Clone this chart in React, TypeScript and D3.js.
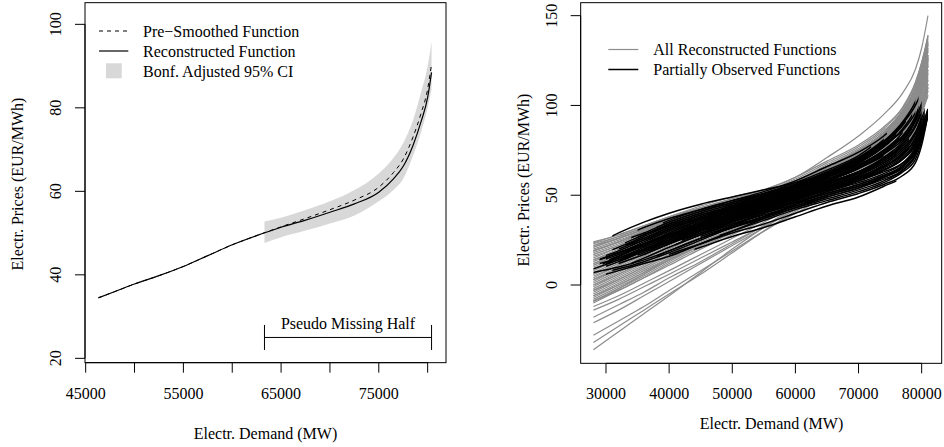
import * as d3 from 'd3';

// ---- left panel: one day, pseudo missing upper half ----
const demandL = [46300, 48000, 50000, 52500, 55000, 57500, 60000, 62500, 65000, 67500, 70000, 72500, 75000, 76500, 77500, 78500, 79300, 80000, 80400];
const reconstructed = [34.5, 36.0, 37.8, 39.8, 42.0, 44.6, 47.2, 49.4, 51.4, 53.1, 55.0, 57.0, 59.8, 63.0, 66.0, 71.0, 76.5, 82.5, 88.5];
const preSmoothed = [34.5, 36.0, 37.8, 39.8, 42.0, 44.6, 47.2, 49.4, 51.5, 53.5, 55.6, 57.9, 61.0, 64.5, 67.7, 73.0, 78.5, 84.5, 90.5];
const ciDemand = [63300, 65000, 67500, 70000, 72500, 75000, 76500, 77500, 78500, 79300, 80000, 80400];
const ciUpper = [52.8, 53.7, 55.5, 57.6, 60.3, 64.3, 68.0, 71.5, 77.0, 83.5, 90.0, 95.8];
const ciLower = [47.6, 49.0, 50.6, 52.3, 54.2, 57.6, 60.3, 63.0, 68.5, 74.0, 80.0, 84.5];
const missingFrom = 63300;
const missingTo = 80400;

const leftXTicks = [45000, 50000, 55000, 60000, 65000, 70000, 75000, 80000];
const leftXLabels = ['45000', '', '55000', '', '65000', '', '75000', ''];
const leftYTicks = [20, 40, 60, 80, 100];
const leftLegend = ['Pre\u2212Smoothed Function', 'Reconstructed Function', 'Bonf. Adjusted 95% CI'];

// ---- right panel: all days ----
const demandR = [28000, 32000, 36000, 40000, 45000, 50000, 55000, 60000, 65000, 70000, 74000, 77000, 79000, 80000, 81000];
const grayCurves = [
  [24, 28, 33, 38, 43, 47, 51, 57, 64, 72, 81, 91, 102, 112, 125],
  [21, 26, 31, 37, 43, 48, 53, 60, 69, 78, 88, 99, 112, 122, 136],
  [19, 24, 29, 35, 41, 46, 51, 58, 66, 75, 85, 96, 108, 119, 132],
  [17, 22, 28, 34, 40, 45, 50, 56, 63, 71, 80, 90, 101, 111, 124],
  [15, 21, 27, 33, 39, 44, 49, 56, 64, 73, 83, 95, 109, 121, 139],
  [13, 19, 25, 31, 37, 43, 48, 55, 62, 70, 79, 89, 100, 110, 122],
  [11, 17, 23, 29, 36, 42, 47, 54, 62, 71, 81, 93, 106, 117, 131],
  [9, 15, 21, 27, 34, 40, 46, 53, 61, 69, 78, 88, 99, 108, 118],
  [7, 13, 19, 26, 33, 39, 45, 52, 60, 68, 77, 87, 98, 107, 117],
  [5, 11, 18, 25, 32, 38, 44, 51, 59, 68, 78, 90, 104, 116, 130],
  [3, 10, 17, 24, 31, 37, 43, 50, 57, 64, 72, 81, 92, 101, 112],
  [1, 8, 15, 22, 30, 37, 43, 50, 58, 67, 77, 88, 101, 112, 126],
  [-1, 6, 13, 20, 28, 35, 41, 48, 55, 63, 71, 80, 90, 99, 110],
  [-3, 4, 11, 18, 26, 33, 40, 47, 55, 64, 74, 85, 98, 109, 122],
  [-5, 2, 9, 16, 24, 31, 38, 46, 54, 62, 71, 80, 91, 100, 108],
  [-7, 0, 7, 15, 23, 31, 38, 46, 54, 63, 73, 84, 96, 106, 118],
  [-9, -2, 5, 13, 22, 30, 37, 45, 53, 61, 70, 79, 89, 97, 105],
  [-10, -3, 4, 12, 21, 29, 37, 46, 55, 65, 76, 88, 101, 112, 125],
  [20, 25, 30, 36, 42, 47, 52, 58, 65, 73, 82, 92, 104, 114, 128],
  [16, 21, 27, 33, 39, 45, 50, 57, 65, 74, 84, 96, 110, 123, 137],
  [12, 18, 24, 30, 37, 43, 48, 54, 61, 69, 78, 88, 99, 108, 120],
  [8, 14, 20, 27, 34, 40, 46, 53, 61, 70, 80, 92, 105, 115, 127],
  [4, 11, 18, 25, 32, 38, 44, 51, 58, 66, 75, 85, 96, 106, 116],
  [0, 7, 14, 21, 29, 36, 42, 49, 57, 66, 76, 88, 102, 114, 128],
  [-4, 3, 10, 17, 25, 32, 39, 47, 55, 63, 72, 82, 93, 102, 114],
  [-8, -1, 6, 14, 22, 30, 37, 45, 53, 62, 72, 83, 95, 104, 112],
  [22, 27, 32, 37, 42, 46, 50, 55, 61, 68, 76, 85, 96, 106, 119],
  [18, 23, 29, 35, 41, 46, 51, 57, 64, 72, 81, 92, 105, 117, 134],
  [23, 27, 32, 37, 43, 48, 52, 58, 66, 75, 85, 97, 110, 121, 135],
  [14, 20, 26, 32, 38, 44, 49, 55, 62, 70, 79, 89, 101, 111, 123],
  [10, 16, 22, 28, 35, 41, 47, 54, 62, 71, 82, 94, 108, 120, 134],
  [6, 12, 19, 26, 33, 39, 45, 52, 60, 68, 77, 87, 98, 108, 120],
  [2, 9, 16, 23, 31, 37, 43, 50, 58, 67, 77, 89, 102, 113, 127],
  [-2, 5, 12, 19, 27, 34, 40, 48, 56, 65, 75, 86, 99, 110, 123],
  [-6, 1, 8, 15, 23, 31, 38, 46, 54, 63, 72, 82, 94, 104, 115],
  [-9, -2, 6, 14, 22, 30, 37, 45, 53, 62, 71, 81, 92, 101, 110],
  [19, 24, 30, 36, 42, 47, 51, 57, 64, 72, 81, 91, 103, 113, 126],
  [11, 17, 23, 30, 36, 42, 47, 54, 61, 69, 78, 88, 100, 110, 122],
  [21, 26, 31, 36, 42, 47, 52, 59, 68, 77, 87, 99, 113, 124, 138],
  [19, 24, 30, 35, 41, 46, 51, 58, 67, 76, 86, 97, 110, 121, 135],
  [17, 22, 27, 33, 39, 45, 50, 57, 66, 75, 84, 95, 108, 119, 132],
  [14, 19, 25, 31, 38, 44, 49, 56, 65, 74, 84, 96, 109, 120, 133],
  [12, 17, 23, 29, 36, 42, 48, 55, 64, 74, 85, 98, 112, 124, 139],
  [9, 15, 21, 27, 35, 41, 47, 55, 64, 73, 83, 95, 108, 119, 131],
  [6, 12, 18, 25, 33, 40, 46, 54, 63, 72, 82, 93, 105, 115, 127],
  [3, 9, 16, 23, 31, 38, 45, 53, 62, 71, 81, 92, 104, 114, 126],
  [0, 6, 13, 20, 28, 36, 43, 51, 60, 70, 80, 91, 103, 113, 124],
  [-3, 3, 10, 17, 25, 33, 41, 49, 58, 68, 79, 91, 104, 115, 128],
  [-6, 0, 7, 14, 22, 30, 38, 47, 57, 67, 78, 90, 103, 114, 126],
  [-9, -3, 4, 11, 20, 28, 36, 45, 55, 66, 77, 89, 102, 113, 125],
  [22, 26, 31, 36, 42, 47, 51, 57, 65, 74, 83, 94, 106, 117, 130],
  // the single high curve on the right
  [23.5, 28, 33, 38, 44, 49, 53, 60, 71, 83, 95, 107, 120, 132, 150],
  // low at the left end, merging into the band by the middle
  [-36, -26, -16, -6, 7, 20, 32, 42, 51, 59, 67, 76, 88, 98, 110],
  [-32, -23, -14, -5, 6, 18, 30, 41, 50, 58, 66, 75, 86, 96, 108],
  [-28, -20, -12, -3, 8, 19, 30, 40, 49, 57, 65, 74, 85, 95, 106],
  [-21, -14, -6, 2, 12, 22, 32, 42, 51, 59, 67, 76, 87, 97, 109],
  [-18, -11, -4, 4, 13, 23, 33, 43, 52, 61, 70, 80, 92, 102, 114],
  [-14, -8, -1, 6, 15, 24, 33, 43, 52, 61, 70, 80, 91, 101, 112],
  [-12, -6, 1, 8, 17, 26, 35, 44, 53, 62, 71, 81, 92, 101, 111],
];

// partially observed days: values at demandR, observed only between from and to
const blackCurves = [
  { from: 31000, to: 68000, v: [22, 29, 35, 40, 45, 49, 53, 57, 62, 68, 75, 84, 95, 104, 115] },
  { from: 28000, to: 72000, v: [7, 10, 14, 19, 26, 33, 40, 47, 54, 61, 69, 78, 89, 98, 108] },
  { from: 29500, to: 66000, v: [10, 15, 21, 27, 34, 40, 45, 51, 57, 64, 72, 81, 92, 101, 112] },
  { from: 30000, to: 75000, v: [14, 19, 25, 31, 37, 42, 47, 53, 60, 68, 77, 87, 98, 107, 118] },
  { from: 31000, to: 79500, v: [16, 21, 27, 33, 39, 44, 49, 55, 62, 70, 79, 90, 100, 108, 118] },
  { from: 33000, to: 70000, v: [12, 17, 23, 29, 36, 42, 47, 53, 59, 66, 74, 83, 94, 103, 113] },
  { from: 35000, to: 78000, v: [18, 23, 28, 34, 40, 45, 50, 56, 63, 71, 80, 90, 101, 110, 120] },
  { from: 30000, to: 81000, v: [8, 13, 19, 25, 32, 38, 43, 48, 53, 58, 63, 68, 75, 84, 96] },
  { from: 31000, to: 81000, v: [11, 16, 22, 28, 34, 39, 44, 49, 54, 59, 64, 70, 78, 87, 98] },
  { from: 36000, to: 81000, v: [6, 11, 17, 23, 30, 36, 41, 46, 51, 56, 61, 66, 74, 82, 95] },
  { from: 40000, to: 80500, v: [9, 14, 20, 26, 33, 39, 44, 50, 55, 60, 66, 73, 82, 91, 100] },
  { from: 29000, to: 77000, v: [13, 18, 24, 30, 36, 41, 46, 51, 57, 63, 70, 78, 88, 97, 107] },
  { from: 32000, to: 76000, v: [15, 20, 26, 32, 38, 43, 48, 54, 61, 69, 78, 88, 99, 109, 120] },
  { from: 36000, to: 74000, v: [17, 22, 28, 34, 40, 45, 50, 56, 63, 71, 81, 92, 104, 114, 126] },
  { from: 42000, to: 81000, v: [5, 10, 16, 22, 29, 35, 40, 45, 50, 55, 60, 66, 75, 85, 97] },
  { from: 45000, to: 81000, v: [3, 8, 14, 20, 27, 33, 38, 43, 48, 53, 58, 64, 72, 82, 95] },
  { from: 40000, to: 81000, v: [0, 5, 11, 17, 23, 29, 34, 40, 46, 51, 56, 61, 68, 78, 95] },
  { from: 44000, to: 76000, v: [-2, 3, 9, 15, 21, 27, 32, 38, 44, 49, 55, 60, 66, 76, 94] },
  { from: 30000, to: 73000, v: [12, 17, 22, 28, 34, 40, 45, 51, 57, 63, 70, 77, 86, 94, 104] },
  { from: 34000, to: 72000, v: [19, 24, 29, 35, 41, 46, 51, 57, 64, 72, 83, 94, 106, 116, 128] },
  { from: 38000, to: 77500, v: [14, 19, 25, 31, 37, 42, 48, 54, 61, 69, 79, 90, 102, 112, 124] },
  { from: 28000, to: 64000, v: [9, 14, 20, 26, 32, 38, 43, 49, 55, 61, 68, 76, 86, 95, 105] },
  { from: 34000, to: 80000, v: [4, 9, 15, 21, 28, 34, 40, 46, 52, 58, 64, 71, 80, 89, 99] },
  { from: 37000, to: 79000, v: [7, 12, 18, 24, 31, 37, 42, 48, 54, 60, 67, 75, 85, 94, 104] },
  { from: 41000, to: 78500, v: [10, 15, 21, 27, 33, 38, 44, 50, 56, 63, 71, 80, 91, 100, 110] },
  { from: 38000, to: 81000, v: [2, 7, 13, 19, 26, 32, 37, 43, 49, 54, 60, 66, 74, 83, 96] },
  { from: 33000, to: 69000, v: [16, 21, 26, 32, 38, 44, 49, 55, 61, 68, 76, 85, 95, 104, 114] },
  { from: 30500, to: 75000, v: [11, 16, 22, 28, 35, 41, 46, 52, 58, 65, 73, 82, 93, 102, 112] },
  { from: 39000, to: 74500, v: [20, 25, 30, 36, 42, 47, 52, 58, 66, 74, 83, 93, 104, 113, 123] },
  { from: 46000, to: 80000, v: [6, 11, 17, 23, 29, 35, 41, 47, 53, 59, 65, 72, 82, 92, 102] },
  { from: 48000, to: 81000, v: [1, 6, 12, 18, 24, 30, 36, 42, 47, 52, 57, 63, 70, 80, 95] },
  { from: 29000, to: 60000, v: [13, 18, 23, 29, 35, 41, 47, 53, 59, 66, 74, 84, 96, 106, 117] },
  { from: 43000, to: 76500, v: [15, 20, 25, 31, 37, 43, 48, 54, 60, 67, 75, 84, 95, 104, 115] },
  { from: 32000, to: 78000, v: [8, 13, 19, 25, 31, 37, 42, 48, 54, 60, 66, 73, 83, 93, 103] },
  { from: 30000, to: 56000, v: [4, 8, 12, 16, 23, 30, 37, 44, 51, 58, 65, 73, 83, 92, 102] },
  { from: 31000, to: 66000, v: [6, 9, 13, 18, 25, 32, 38, 45, 52, 58, 65, 73, 83, 92, 103] },
  { from: 47000, to: 79000, v: [14, 19, 25, 31, 37, 43, 48, 54, 61, 69, 78, 86, 96, 104, 113] },
  { from: 44000, to: 80000, v: [10, 15, 21, 27, 34, 40, 45, 51, 58, 65, 74, 83, 93, 101, 110] },
  { from: 33000, to: 71000, v: [17, 22, 28, 33, 39, 44, 49, 54, 60, 67, 75, 84, 95, 104, 114] },
  { from: 35000, to: 67000, v: [20, 26, 32, 37, 42, 47, 51, 56, 62, 69, 77, 86, 97, 106, 116] },
  { from: 37000, to: 79500, v: [13, 18, 24, 30, 36, 41, 46, 52, 58, 65, 73, 83, 94, 103, 113] },
  { from: 29000, to: 62000, v: [11, 15, 20, 25, 31, 37, 42, 48, 54, 60, 67, 75, 85, 94, 104] },
  { from: 32000, to: 80000, v: [7, 12, 17, 23, 29, 35, 41, 47, 53, 58, 64, 70, 79, 88, 98] },
  { from: 42000, to: 81000, v: [8, 13, 19, 25, 31, 36, 41, 46, 51, 56, 61, 67, 76, 86, 97] },
  { from: 50000, to: 78000, v: [12, 17, 23, 29, 35, 40, 45, 50, 56, 62, 69, 77, 87, 96, 106] },
  { from: 52000, to: 80000, v: [9, 14, 20, 26, 32, 37, 42, 48, 53, 59, 66, 74, 84, 94, 104] },
  { from: 34000, to: 74000, v: [15, 20, 25, 31, 37, 42, 47, 52, 58, 65, 72, 80, 90, 99, 109] },
  { from: 30000, to: 58000, v: [10, 14, 19, 24, 30, 36, 42, 48, 55, 62, 70, 79, 90, 99, 109] },
  { from: 38000, to: 73000, v: [18, 23, 29, 35, 41, 46, 50, 55, 61, 68, 77, 86, 97, 106, 116] },
  { from: 36000, to: 76000, v: [10, 15, 21, 27, 33, 39, 44, 49, 55, 61, 68, 76, 86, 95, 105] },
  { from: 41000, to: 81000, v: [4, 9, 15, 21, 28, 34, 39, 44, 49, 54, 59, 64, 72, 82, 96] },
  { from: 53000, to: 79000, v: [16, 21, 27, 33, 39, 44, 49, 55, 62, 70, 80, 91, 102, 111, 121] },
  { from: 44000, to: 77000, v: [12, 17, 23, 29, 35, 41, 46, 52, 59, 66, 75, 85, 96, 105, 115] },
  { from: 31000, to: 63000, v: [14, 18, 23, 28, 34, 40, 46, 52, 58, 65, 73, 82, 93, 102, 112] },
  { from: 39000, to: 80500, v: [6, 11, 17, 23, 30, 36, 42, 48, 54, 60, 66, 73, 81, 89, 99] },
  { from: 35000, to: 75500, v: [8, 13, 18, 24, 31, 37, 43, 49, 56, 63, 71, 80, 91, 100, 110] },
  { from: 47000, to: 81000, v: [2, 7, 13, 19, 26, 32, 38, 44, 50, 55, 60, 65, 73, 83, 96] },
  { from: 33000, to: 70000, v: [9, 14, 20, 26, 33, 39, 45, 51, 57, 63, 70, 78, 88, 97, 107] },
  { from: 45000, to: 79500, v: [11, 16, 22, 28, 34, 40, 45, 51, 58, 66, 75, 82, 92, 101, 111] },
  { from: 50000, to: 78500, v: [13, 18, 24, 30, 36, 42, 47, 53, 60, 68, 77, 87, 98, 107, 117] },
  { from: 55000, to: 80000, v: [12, 17, 23, 29, 35, 41, 46, 52, 58, 65, 73, 81, 91, 99, 108] },
  { from: 48000, to: 77500, v: [14, 19, 25, 31, 37, 43, 48, 55, 62, 70, 79, 89, 100, 109, 119] },
  { from: 57000, to: 79800, v: [10, 15, 21, 27, 33, 39, 44, 50, 56, 63, 70, 79, 89, 97, 106] },
  { from: 46000, to: 80500, v: [7, 12, 18, 24, 30, 36, 42, 48, 54, 61, 68, 76, 85, 93, 102] },
  { from: 60000, to: 81000, v: [5, 10, 16, 22, 28, 34, 40, 46, 52, 57, 62, 68, 77, 87, 98] },
  { from: 43000, to: 80000, v: [9, 14, 20, 26, 32, 38, 43, 49, 55, 62, 69, 78, 88, 96, 105] },
];

const rightXTicks = [30000, 40000, 50000, 60000, 70000, 80000];
const rightYTicks = [0, 50, 100, 150];
const rightLegend = ['All Reconstructed Functions', 'Partially Observed Functions'];

const font = "'Liberation Serif', 'Times New Roman', serif";
const grayLine = '#8c8c8c';
const ciFill = '#d8d8d8';

export default function App() {
  // left panel scales
  const xL = d3.scaleLinear().domain([44931, 81878]).range([85, 446]);
  const yL = d3.scaleLinear().domain([18.96, 105.19]).range([362.67, 2.67]);
  // right panel scales
  const xR = d3.scaleLinear().domain([25988, 83168]).range([580.67, 941.67]);
  const yR = d3.scaleLinear().domain([-43.62, 157.24]).range([363.33, 2.67]);

  const lineL = d3
    .line<number>()
    .x((_, i) => xL(demandL[i]))
    .y((d) => yL(d))
    .curve(d3.curveMonotoneX);
  const ciArea = d3
    .area<number>()
    .x((_, i) => xL(ciDemand[i]))
    .y0((_, i) => yL(ciLower[i]))
    .y1((d) => yL(d))
    .curve(d3.curveMonotoneX);
  const lineR = d3
    .line<number>()
    .x((_, i) => xR(demandR[i]))
    .y((d) => yR(d))
    .curve(d3.curveMonotoneX);

  const lTop = yL.range()[1];
  const lBottom = yL.range()[0];
  const rTop = yR.range()[1];
  const rBottom = yR.range()[0];
  const tick = 10;

  const bracketY = yL(25);
  const bracketHalf = yL(22) - yL(25);

  return (
    <svg
      width={944}
      height={447}
      style={{ position: 'absolute', left: 0, top: 0, background: '#fff' }}
      fontFamily={font}
      fontSize={16}
    >
      <defs>
        {blackCurves.map((c, i) => (
          <clipPath key={`cp${i}`} id={`obs${i}`}>
            <rect x={xR(c.from)} y={0} width={xR(c.to) - xR(c.from)} height={447} />
          </clipPath>
        ))}
      </defs>

      {/* ===== left panel ===== */}
      <g id='left'>
        <path d={ciArea(ciUpper) ?? ''} fill={ciFill} stroke='none' />
        <path d={lineL(preSmoothed) ?? ''} fill='none' stroke='#000' strokeWidth={1} strokeDasharray='4,4' />
        <path d={lineL(reconstructed) ?? ''} fill='none' stroke='#000' strokeWidth={1.2} />

        {/* pseudo missing half bracket */}
        <g stroke='#000' strokeWidth={1}>
          <line x1={xL(missingFrom)} x2={xL(missingTo)} y1={bracketY} y2={bracketY} />
          <line x1={xL(missingFrom)} x2={xL(missingFrom)} y1={bracketY - bracketHalf} y2={bracketY + bracketHalf} />
          <line x1={xL(missingTo)} x2={xL(missingTo)} y1={bracketY - bracketHalf} y2={bracketY + bracketHalf} />
        </g>
        <text x={(xL(missingFrom) + xL(missingTo)) / 2} y={yL(28.4)} textAnchor='middle' dominantBaseline='central'>
          Pseudo Missing Half
        </text>

        <rect x={85} y={lTop} width={446 - 85} height={lBottom - lTop} fill='none' stroke='#000' />

        {/* x axis */}
        <line x1={xL(leftXTicks[0])} x2={xL(leftXTicks[leftXTicks.length - 1])} y1={lBottom} y2={lBottom} stroke='#000' />
        {leftXTicks.map((t, i) => (
          <g key={`lx${t}`}>
            <line x1={xL(t)} x2={xL(t)} y1={lBottom} y2={lBottom + tick} stroke='#000' />
            {leftXLabels[i] && (
              <text x={xL(t)} y={393.5} textAnchor='middle' dominantBaseline='central'>
                {leftXLabels[i]}
              </text>
            )}
          </g>
        ))}
        {/* y axis */}
        <line x1={85} x2={85} y1={yL(leftYTicks[0])} y2={yL(leftYTicks[leftYTicks.length - 1])} stroke='#000' />
        {leftYTicks.map((t) => (
          <g key={`ly${t}`}>
            <line x1={85} x2={85 - tick} y1={yL(t)} y2={yL(t)} stroke='#000' />
            <text
              transform={`translate(55,${yL(t)}) rotate(-90)`}
              textAnchor='middle'
              dominantBaseline='central'
            >
              {t}
            </text>
          </g>
        ))}
        <text x={265.5} y={433} textAnchor='middle' dominantBaseline='central'>
          Electr. Demand (MW)
        </text>
        <text transform='translate(17.8,184) rotate(-90)' textAnchor='middle' dominantBaseline='central'>
          Electr. Prices (EUR/MWh)
        </text>

        {/* legend */}
        <line x1={99} x2={128.3} y1={31} y2={31} stroke='#000' strokeDasharray='4,4' />
        <line x1={99} x2={128.3} y1={51} y2={51} stroke='#000' strokeWidth={1.2} />
        <rect x={106} y={63.3} width={15.7} height={15} fill={ciFill} />
        {leftLegend.map((s, i) => (
          <text key={s} x={143} y={31 + i * 20} dominantBaseline='central'>
            {s}
          </text>
        ))}
      </g>

      {/* ===== right panel ===== */}
      <g id='right'>
        <g fill='none' stroke={grayLine} strokeWidth={1.2}>
          {grayCurves.map((c, i) => (
            <path key={`g${i}`} d={lineR(c) ?? ''} />
          ))}
        </g>
        <g fill='none' stroke='#000' strokeWidth={1.5}>
          {blackCurves.map((c, i) => (
            <path key={`b${i}`} d={lineR(c.v) ?? ''} clipPath={`url(#obs${i})`} />
          ))}
        </g>

        <rect x={580.67} y={rTop} width={941.67 - 580.67} height={rBottom - rTop} fill='none' stroke='#000' />

        <line x1={xR(rightXTicks[0])} x2={xR(rightXTicks[rightXTicks.length - 1])} y1={rBottom} y2={rBottom} stroke='#000' />
        {rightXTicks.map((t) => (
          <g key={`rx${t}`}>
            <line x1={xR(t)} x2={xR(t)} y1={rBottom} y2={rBottom + tick} stroke='#000' />
            <text x={xR(t)} y={393.5} textAnchor='middle' dominantBaseline='central'>
              {t}
            </text>
          </g>
        ))}
        <line x1={580.67} x2={580.67} y1={yR(rightYTicks[0])} y2={yR(rightYTicks[rightYTicks.length - 1])} stroke='#000' />
        {rightYTicks.map((t) => (
          <g key={`ry${t}`}>
            <line x1={580.67} x2={580.67 - tick} y1={yR(t)} y2={yR(t)} stroke='#000' />
            <text
              transform={`translate(551.7,${yR(t)}) rotate(-90)`}
              textAnchor='middle'
              dominantBaseline='central'
            >
              {t}
            </text>
          </g>
        ))}
        <text x={771.5} y={423.5} textAnchor='middle' dominantBaseline='central'>
          Electr. Demand (MW)
        </text>
        <text transform='translate(523.7,180) rotate(-90)' textAnchor='middle' dominantBaseline='central'>
          Electr. Prices (EUR/MWh)
        </text>

        <line x1={608.3} x2={638.3} y1={49.5} y2={49.5} stroke={grayLine} strokeWidth={1.2} />
        <line x1={608.3} x2={638.3} y1={69.5} y2={69.5} stroke='#000' strokeWidth={1.5} />
        {rightLegend.map((s, i) => (
          <text key={s} x={653.3} y={49.5 + i * 20} dominantBaseline='central'>
            {s}
          </text>
        ))}
      </g>
    </svg>
  );
}
